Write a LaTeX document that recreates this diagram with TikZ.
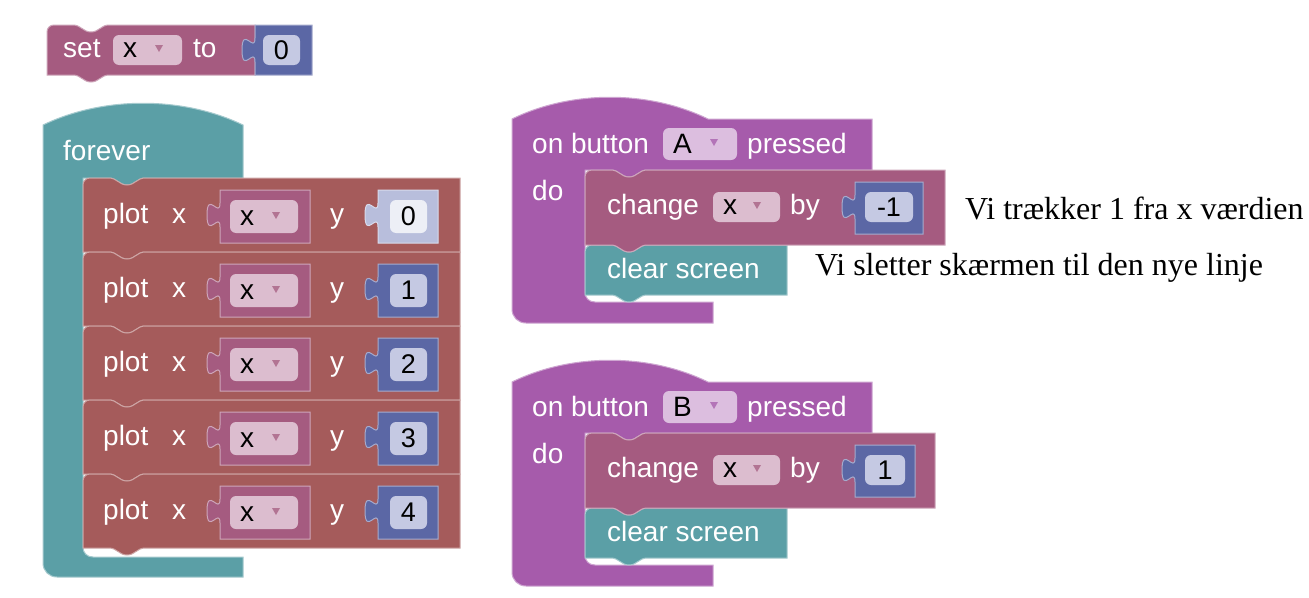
\documentclass[tikz,border=0pt]{standalone}
\usepackage{fontspec}
\setmainfont{Liberation Serif}
\setsansfont{Liberation Sans}

\definecolor{varcol}{HTML}{A55B80}
\definecolor{varfield}{HTML}{DCBDCF}
\definecolor{mathcol}{HTML}{5B67A5}
\definecolor{mathfield}{HTML}{C5C9E3}
\definecolor{shadowcol}{HTML}{B8BEDC}
\definecolor{shadowfield}{HTML}{EDEFF6}
\definecolor{loopcol}{HTML}{5B9FA6}
\definecolor{plotcol}{HTML}{A55B5B}
\definecolor{eventcol}{HTML}{A65BAB}
\definecolor{eventfield}{HTML}{DCBEDF}

% statement block with notch on top and tab below: left, top, width, height, colour
\newcommand\stmtblock[5]{%
  \filldraw[block=#5] (#1,#2+#4) -- (#1,#2+7) .. controls (#1,#2+3) and (#1+3,#2) .. (#1+7,#2) -- (#1+26,#2)
    .. controls (#1+34,#2) and (#1+36,#2+7) .. (#1+44,#2+7)
    .. controls (#1+52,#2+7) and (#1+54,#2) .. (#1+62,#2)
    -- (#1+#3,#2) -- (#1+#3,#2+#4) -- (#1+62,#2+#4)
    .. controls (#1+54,#2+#4) and (#1+52,#2+#4+7) .. (#1+44,#2+#4+7)
    .. controls (#1+36,#2+#4+7) and (#1+34,#2+#4) .. (#1+26,#2+#4) -- cycle;}

% reporter with its puzzle tab on the left: left, top, width, height, colour
\newcommand\reporter[5]{%
  \filldraw[block=#5] (#1,#2) -- (#1+#3,#2) -- (#1+#3,#2+#4) -- (#1,#2+#4) -- (#1,#2+37)
    .. controls (#1,#2+21) and (#1-13,#2+50) .. (#1-13,#2+25)
    .. controls (#1-13,#2) and (#1,#2+29) .. (#1,#2+13) -- cycle;}

% small dropdown arrow: centre x, centre y, colour
\newcommand\dropdown[3]{\fill[#3] (#1-4,#2-3) -- (#1+4,#2-3) -- (#1,#2+4) -- cycle;}

\begin{document}
\begin{tikzpicture}[x=1pt, y=-1pt,
    block/.style={fill=#1, draw=#1!55!white, line width=1pt},
    fieldbox/.style={fill=#1, rounded corners=6pt},
    blocktext/.style={font=\sffamily\fontsize{28}{32}\selectfont, text=white, inner sep=0pt, anchor=base west},
    fieldtext/.style={blocktext, text=black},
    numtext/.style={font=\sffamily\fontsize{27}{32}\selectfont, inner sep=0pt},
    note/.style={font=\fontsize{32}{38}\selectfont, inner sep=0pt, anchor=base west}
  ]
    \useasboundingbox (0,0) rectangle (1309,597);
    \fill[white] (0,0) rectangle (1309,597);

    % set x to 0
    \stmtblock{47}{25}{208}{50}{varcol}
    \reporter{255}{25}{57}{50}{mathcol}
    \fill[fieldbox=varfield] (113,35) rectangle (182,65);
    \dropdown{159}{48}{varcol!85!white}
    \fill[fieldbox=mathfield] (263,35) rectangle (300,65);
    \node[blocktext] (set) at (63,57) {set};
    \node[fieldtext] (setx) at (123,57) {x};
    \node[blocktext] (setto) at (193,57) {to};
    \node[numtext] (setval) at (281.5,50) {0};

    % forever loop
    \filldraw[block=loopcol] (43,125) .. controls (103,96) and (183,96) .. (243,125) -- (243,178)
      -- (145,178) .. controls (137,178) and (135,185) .. (127,185) .. controls (119,185) and (117,178) .. (109,178)
      -- (83,178) -- (83,547) .. controls (83,553) and (87,557) .. (93,557) -- (243,557) -- (243,577)
      -- (57,577) .. controls (49,577) and (43,571) .. (43,563) -- cycle;
    \node[blocktext] (forever) at (63,160) {forever};

    \foreach \i/\vcol/\vfld in {0/shadowcol/shadowfield, 1/mathcol/mathfield, 2/mathcol/mathfield,
                                3/mathcol/mathfield, 4/mathcol/mathfield} {
      \pgfmathsetmacro\t{178+74*\i}
      \stmtblock{83}{\t}{377}{74}{plotcol}
      \reporter{220}{\t+12}{90}{53}{varcol}
      \fill[fieldbox=varfield] (230,\t+22) rectangle (298,\t+55);
      \dropdown{276}{\t+37}{varcol!85!white}
      \reporter{378}{\t+12}{60}{53}{\vcol}
      \fill[fieldbox=\vfld] (390,\t+22) rectangle (427,\t+55);
      \node[blocktext] (plot\i) at (103,\t+45) {plot};
      \node[blocktext] (px\i) at (172,\t+45) {x};
      \node[fieldtext] (var\i) at (240,\t+47) {x};
      \node[blocktext] (py\i) at (330,\t+45) {y};
      \node[numtext] (val\i) at (408.5,\t+38.5) {\i};
    }

    % button handlers
    \foreach \k/\d/\n/\w/\v in {A/0/-1/360/68, B/263/1/350/60} {
      \filldraw[block=eventcol] (512,119+\d) .. controls (571,90+\d) and (649,90+\d) .. (708,119+\d)
        -- (872,119+\d) -- (872,170+\d)
        -- (647,170+\d) .. controls (639,170+\d) and (637,177+\d) .. (629,177+\d)
        .. controls (621,177+\d) and (619,170+\d) .. (611,170+\d)
        -- (585,170+\d) -- (585,292+\d) .. controls (585,298+\d) and (589,302+\d) .. (595,302+\d)
        -- (713,302+\d) -- (713,323+\d) -- (526,323+\d)
        .. controls (518,323+\d) and (512,317+\d) .. (512,309+\d) -- cycle;
      \fill[fieldbox=eventfield] (663,128+\d) rectangle (737,160+\d);
      \dropdown{714}{142+\d}{eventcol!85!white}
      \node[blocktext] (on\k) at (532,153+\d) {on button};
      \node[fieldtext] (btn\k) at (673,153+\d) {\k};
      \node[blocktext] (press\k) at (747,153+\d) {pressed};
      \node[blocktext] (do\k) at (532,200+\d) {do};

      \stmtblock{585}{245+\d}{202}{50}{loopcol}
      \stmtblock{585}{170+\d}{\w}{75}{varcol}
      \reporter{855}{182+\d}{\v}{52}{mathcol}
      \fill[fieldbox=varfield] (713,192+\d) rectangle (780,222+\d);
      \dropdown{757}{205+\d}{varcol!85!white}
      \fill[fieldbox=mathfield] (865,192+\d) rectangle (845+\v,222+\d);
      \pgfmathsetmacro\c{(1710+\v)/2}
      \node[blocktext] (chg\k) at (607,214+\d) {change};
      \node[fieldtext] (chx\k) at (723,214+\d) {x};
      \node[blocktext] (by\k) at (790,214+\d) {by};
      \node[numtext] (num\k) at (\c,207+\d) {\n};
      \node[blocktext] (clr\k) at (607,278+\d) {clear screen};
    }

    \node[note] (noteA) at (965,219) {Vi trækker 1 fra x værdien};
    \node[note] (noteB) at (815,275) {Vi sletter skærmen til den nye linje};
\end{tikzpicture}
\end{document}
